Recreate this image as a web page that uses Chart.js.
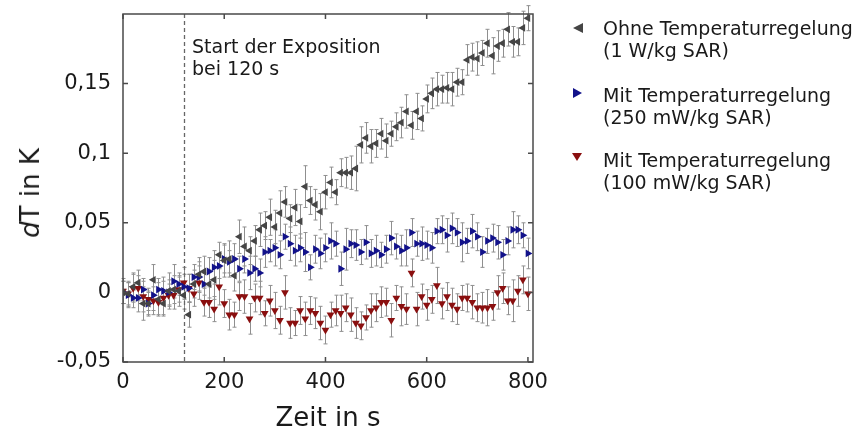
<!DOCTYPE html>
<html>
<head>
<meta charset="utf-8">
<script src="https://cdn.jsdelivr.net/npm/chart.js@4.4.1/dist/chart.umd.min.js"></script>
<style>
    body { margin: 0; background: #fff; font-family: "DejaVu Sans", sans-serif; color: #1a1a1a; }
    #wrap { position: relative; width: 860px; height: 430px; }
    .txt { position: absolute; font-size: 19px; line-height: 22px; white-space: nowrap; }
    .mark { position: absolute; width: 0; height: 0; }
    #ytitel { position: absolute; left: 30px; top: 193px; font-size: 26px; white-space: nowrap;
              transform: translate(-50%, -50%) rotate(-90deg); }
</style>
</head>
<body>
<div id="wrap">
    <canvas id="tempChart"></canvas>
    <div id="ytitel"><i>d</i>T in K</div>
    <div class="txt" style="left:192px; top:35px;">Start der Exposition<br>bei 120 s</div>

    <div class="mark" style="left:573px; top:23px; border-right:10px solid #454545; border-top:5px solid transparent; border-bottom:5px solid transparent;"></div>
    <div class="txt" style="left:603px; top:17px;">Ohne Temperaturregelung<br>(1 W/kg SAR)</div>

    <div class="mark" style="left:573px; top:88px; border-left:9px solid #12128a; border-top:5px solid transparent; border-bottom:5px solid transparent;"></div>
    <div class="txt" style="left:603px; top:84px;">Mit Temperaturregelung<br>(250 mW/kg SAR)</div>

    <div class="mark" style="left:572px; top:153px; border-top:8px solid #8a0f0f; border-left:5px solid transparent; border-right:5px solid transparent;"></div>
    <div class="txt" style="left:603px; top:149px;">Mit Temperaturregelung<br>(100 mW/kg SAR)</div>
</div>
<script>
// Zeitpunkte in s
var zeit = [0, 10, 20, 30, 40, 50, 60, 70, 80, 90, 100, 110, 120,
    130, 140, 150, 160, 170, 180, 190, 200, 210, 220, 230, 240, 250,
    260, 270, 280, 290, 300, 310, 320, 330, 340, 350, 360, 370, 380,
    390, 400, 410, 420, 430, 440, 450, 460, 470, 480, 490, 500, 510,
    520, 530, 540, 550, 560, 570, 580, 590, 600, 610, 620, 630, 640,
    650, 660, 670, 680, 690, 700, 710, 720, 730, 740, 750, 760, 770,
    780, 790, 800];

// Ohne Temperaturregelung (1 W/kg SAR)
var ohneWerte = [0.000, -0.001, 0.004, 0.007, -0.008, -0.008, 0.009, -0.005, -0.008, 0.001, 0.002, 0.001, -0.002,
    -0.016, 0.006, 0.013, 0.015, 0.006, 0.009, 0.027, 0.023, 0.024, 0.012, 0.040, 0.033, 0.030,
    0.037, 0.045, 0.048, 0.054, 0.047, 0.057, 0.065, 0.053, 0.061, 0.051, 0.076, 0.066, 0.063,
    0.058, 0.072, 0.079, 0.072, 0.086, 0.086, 0.086, 0.089, 0.106, 0.111, 0.105, 0.107, 0.114,
    0.109, 0.114, 0.119, 0.122, 0.130, 0.120, 0.130, 0.125, 0.139, 0.143, 0.146, 0.146, 0.147,
    0.146, 0.151, 0.151, 0.167, 0.169, 0.168, 0.172, 0.179, 0.170, 0.177, 0.179, 0.189, 0.180,
    0.180, 0.190, 0.197];
var ohneFehler = [0.008, 0.009, 0.010, 0.009, 0.012, 0.008, 0.011, 0.012, 0.009, 0.013, 0.010, 0.011, 0.010,
    0.009, 0.010, 0.012, 0.011, 0.010, 0.014, 0.009, 0.012, 0.013, 0.011, 0.012, 0.014, 0.010,
    0.011, 0.012, 0.010, 0.013, 0.012, 0.016, 0.011, 0.010, 0.013, 0.012, 0.015, 0.010, 0.011,
    0.013, 0.012, 0.011, 0.009, 0.010, 0.011, 0.012, 0.016, 0.013, 0.011, 0.012, 0.010, 0.011,
    0.012, 0.009, 0.010, 0.011, 0.012, 0.010, 0.013, 0.009, 0.010, 0.011, 0.012, 0.010, 0.011,
    0.012, 0.010, 0.009, 0.011, 0.010, 0.012, 0.009, 0.010, 0.013, 0.011, 0.010, 0.012, 0.011,
    0.010, 0.012, 0.009];

// Mit Temperaturregelung (250 mW/kg SAR)
var mit250Werte = [0.000, -0.002, -0.004, -0.004, 0.002, -0.008, -0.002, 0.002, 0.001, 0.000, 0.008, 0.006, 0.004,
    0.003, 0.011, 0.011, 0.006, 0.015, 0.018, 0.019, 0.024, 0.022, 0.024, 0.017, 0.024, 0.014,
    0.017, 0.014, 0.029, 0.030, 0.032, 0.027, 0.040, 0.035, 0.030, 0.032, 0.029, 0.018, 0.031,
    0.028, 0.032, 0.037, 0.035, 0.017, 0.031, 0.035, 0.034, 0.029, 0.036, 0.028, 0.030, 0.027,
    0.031, 0.039, 0.033, 0.030, 0.032, 0.043, 0.035, 0.035, 0.034, 0.032, 0.044, 0.045, 0.041,
    0.046, 0.043, 0.036, 0.037, 0.044, 0.040, 0.029, 0.037, 0.039, 0.036, 0.027, 0.037, 0.045,
    0.045, 0.041, 0.028];
var mit250Fehler = [0.008, 0.009, 0.007, 0.010, 0.008, 0.009, 0.011, 0.008, 0.010, 0.009, 0.012, 0.008, 0.009,
    0.010, 0.009, 0.011, 0.008, 0.010, 0.012, 0.009, 0.010, 0.008, 0.011, 0.009, 0.010, 0.012,
    0.009, 0.010, 0.011, 0.008, 0.013, 0.010, 0.009, 0.012, 0.011, 0.010, 0.014, 0.009, 0.010,
    0.011, 0.010, 0.013, 0.009, 0.012, 0.015, 0.010, 0.011, 0.009, 0.012, 0.010, 0.011, 0.009,
    0.010, 0.012, 0.009, 0.011, 0.013, 0.010, 0.009, 0.012, 0.010, 0.011, 0.009, 0.010, 0.012,
    0.011, 0.010, 0.014, 0.009, 0.012, 0.010, 0.011, 0.009, 0.010, 0.012, 0.011, 0.010, 0.013,
    0.010, 0.009, 0.011];

// Mit Temperaturregelung (100 mW/kg SAR)
var mit100Werte = [0.001, -0.001, 0.003, 0.003, -0.003, -0.005, -0.006, -0.007, -0.004, -0.002, -0.002, 0.002, 0.007,
    0.003, -0.001, 0.007, -0.007, -0.007, -0.012, 0.004, -0.008, -0.016, -0.016, -0.003, -0.003, -0.019,
    -0.004, -0.004, -0.015, -0.006, -0.013, -0.020, 0.000, -0.022, -0.022, -0.013, -0.019, -0.013, -0.015,
    -0.022, -0.027, -0.016, -0.013, -0.015, -0.011, -0.016, -0.022, -0.024, -0.018, -0.013, -0.011, -0.007,
    -0.007, -0.020, -0.004, -0.010, -0.012, 0.014, -0.012, -0.003, -0.009, -0.005, 0.005, -0.008, -0.003,
    -0.009, -0.012, -0.004, -0.004, -0.007, -0.011, -0.011, -0.011, -0.010, 0.000, 0.003, -0.006, -0.006,
    0.001, 0.009, -0.001];
var mit100Fehler = [0.009, 0.008, 0.010, 0.009, 0.011, 0.008, 0.010, 0.009, 0.012, 0.008, 0.010, 0.009, 0.011,
    0.010, 0.009, 0.012, 0.010, 0.011, 0.009, 0.013, 0.010, 0.011, 0.009, 0.010, 0.012, 0.011,
    0.010, 0.012, 0.009, 0.011, 0.013, 0.010, 0.012, 0.011, 0.009, 0.010, 0.012, 0.010, 0.011,
    0.012, 0.010, 0.009, 0.011, 0.013, 0.010, 0.012, 0.011, 0.010, 0.009, 0.012, 0.010, 0.011,
    0.010, 0.012, 0.009, 0.014, 0.011, 0.010, 0.012, 0.009, 0.011, 0.010, 0.013, 0.011, 0.010,
    0.012, 0.011, 0.009, 0.010, 0.012, 0.010, 0.011, 0.013, 0.010, 0.012, 0.011, 0.010, 0.015,
    0.011, 0.010, 0.012];

var xTicks = [0, 200, 400, 600, 800];
var yTicks = [-0.05, 0, 0.05, 0.1, 0.15];
var expositionStart = 120;

function punkte(werte, fehler) {
    var out = [];
    for (var i = 0; i < zeit.length; i++) {
        out.push({ x: zeit[i], y: werte[i], err: fehler[i] });
    }
    return out;
}

function komma(v) {
    var r = Math.round(v * 100) / 100;
    return String(r).replace('.', ',');
}

var rahmenPlugin = {
    id: 'rahmen',
    beforeDatasetsDraw: function(chart) {
        var ctx = chart.ctx;
        var a = chart.chartArea;
        var x = chart.scales.x;
        var y = chart.scales.y;
        ctx.save();
        // Fehlerbalken
        ctx.strokeStyle = '#8f8f8f';
        ctx.lineWidth = 1;
        chart.data.datasets.forEach(function(ds) {
            ds.data.forEach(function(p) {
                var px = Math.round(x.getPixelForValue(p.x)) + 0.5;
                var y1 = y.getPixelForValue(p.y - p.err);
                var y2 = y.getPixelForValue(p.y + p.err);
                ctx.beginPath();
                ctx.moveTo(px, y1); ctx.lineTo(px, y2);
                ctx.moveTo(px - 2, y1); ctx.lineTo(px + 2, y1);
                ctx.moveTo(px - 2, y2); ctx.lineTo(px + 2, y2);
                ctx.stroke();
            });
        });
        // Start der Exposition
        var sx = Math.round(x.getPixelForValue(expositionStart)) + 0.5;
        ctx.strokeStyle = '#666';
        ctx.lineWidth = 1.3;
        ctx.setLineDash([4, 3]);
        ctx.beginPath();
        ctx.moveTo(sx, a.top);
        ctx.lineTo(sx, a.bottom);
        ctx.stroke();
        ctx.restore();
    },
    afterDraw: function(chart) {
        var ctx = chart.ctx;
        var a = chart.chartArea;
        var x = chart.scales.x;
        var y = chart.scales.y;
        ctx.save();
        ctx.strokeStyle = '#4a4a4a';
        ctx.lineWidth = 1.5;
        ctx.strokeRect(a.left, a.top, a.right - a.left, a.bottom - a.top);
        ctx.beginPath();
        xTicks.forEach(function(t) {
            var px = x.getPixelForValue(t);
            ctx.moveTo(px, a.bottom); ctx.lineTo(px, a.bottom - 5);
            ctx.moveTo(px, a.top); ctx.lineTo(px, a.top + 5);
        });
        yTicks.forEach(function(t) {
            var py = y.getPixelForValue(t);
            ctx.moveTo(a.left, py); ctx.lineTo(a.left + 5, py);
            ctx.moveTo(a.right, py); ctx.lineTo(a.right - 5, py);
        });
        ctx.stroke();
        ctx.restore();
    }
};

var ctx = document.getElementById('tempChart').getContext('2d');
var chart = new Chart(ctx, {
    type: 'scatter',
    data: {
        datasets: [
            {
                label: 'Ohne Temperaturregelung (1 W/kg SAR)',
                data: punkte(ohneWerte, ohneFehler),
                pointStyle: 'triangle',
                rotation: -90,
                pointRadius: 4.5,
                backgroundColor: '#454545',
                borderColor: '#454545',
                borderWidth: 0
            },
            {
                label: 'Mit Temperaturregelung (250 mW/kg SAR)',
                data: punkte(mit250Werte, mit250Fehler),
                pointStyle: 'triangle',
                rotation: 90,
                pointRadius: 4.5,
                backgroundColor: '#12128a',
                borderColor: '#12128a',
                borderWidth: 0
            },
            {
                label: 'Mit Temperaturregelung (100 mW/kg SAR)',
                data: punkte(mit100Werte, mit100Fehler),
                pointStyle: 'triangle',
                rotation: 180,
                pointRadius: 4.5,
                backgroundColor: '#8a0f0f',
                borderColor: '#8a0f0f',
                borderWidth: 0
            }
        ]
    },
    options: {
        responsive: true,
        maintainAspectRatio: false,
        animation: false,
        layout: { padding: { left: 0, top: 14, right: 327, bottom: 0 } },
        plugins: {
            legend: { display: false },
            tooltip: { enabled: false }
        },
        scales: {
            x: {
                type: 'linear',
                min: 0,
                max: 810,
                grid: { display: false, drawTicks: false },
                border: { display: false },
                afterBuildTicks: function(scale) {
                    scale.ticks = xTicks.map(function(v) { return { value: v }; });
                },
                ticks: {
                    autoSkip: false,
                    padding: 8,
                    color: '#1a1a1a',
                    font: { family: 'DejaVu Sans', size: 21 },
                    maxRotation: 0,
                    callback: function(v) { return String(v); }
                },
                title: {
                    display: true,
                    text: 'Zeit in s',
                    color: '#1a1a1a',
                    font: { family: 'DejaVu Sans', size: 26, lineHeight: 0.85 },
                    padding: { top: 0, bottom: 0 }
                },
                afterFit: function(scale) {
                    scale.height = 68;
                    scale.paddingLeft = 0;
                    scale.paddingRight = 0;
                }
            },
            y: {
                min: -0.05,
                max: 0.2,
                grid: { display: false, drawTicks: false },
                border: { display: false },
                afterBuildTicks: function(scale) {
                    scale.ticks = yTicks.map(function(v) { return { value: v }; });
                },
                ticks: {
                    autoSkip: false,
                    padding: 12,
                    color: '#1a1a1a',
                    font: { family: 'DejaVu Sans', size: 21 },
                    callback: function(v) { return komma(v); }
                },
                afterFit: function(scale) {
                    scale.width = 123;
                    scale.paddingTop = 0;
                    scale.paddingBottom = 0;
                }
            }
        }
    },
    plugins: [rahmenPlugin]
});
</script>
</body>
</html>
